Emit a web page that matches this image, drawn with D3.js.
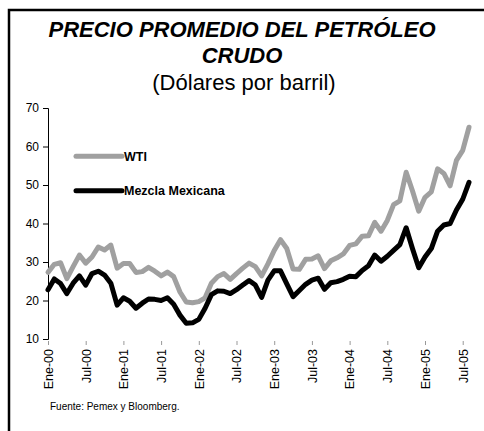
<!DOCTYPE html>
<html><head><meta charset="utf-8">
<script src="https://cdn.jsdelivr.net/npm/d3@7"></script>
<style>
body{margin:0;background:#fff}
svg{display:block}
text{font-family:"Liberation Sans",Arial,Helvetica,sans-serif}
</style>
</head><body>
<svg id="chart" width="484" height="431"></svg>
<script>
const categories = [
 "Ene-00","Feb-00","Mar-00","Abr-00","May-00","Jun-00","Jul-00","Ago-00","Sep-00","Oct-00","Nov-00","Dic-00",
 "Ene-01","Feb-01","Mar-01","Abr-01","May-01","Jun-01","Jul-01","Ago-01","Sep-01","Oct-01","Nov-01","Dic-01",
 "Ene-02","Feb-02","Mar-02","Abr-02","May-02","Jun-02","Jul-02","Ago-02","Sep-02","Oct-02","Nov-02","Dic-02",
 "Ene-03","Feb-03","Mar-03","Abr-03","May-03","Jun-03","Jul-03","Ago-03","Sep-03","Oct-03","Nov-03","Dic-03",
 "Ene-04","Feb-04","Mar-04","Abr-04","May-04","Jun-04","Jul-04","Ago-04","Sep-04","Oct-04","Nov-04","Dic-04",
 "Ene-05","Feb-05","Mar-05","Abr-05","May-05","Jun-05","Jul-05","Ago-05"
];
const wti = [
 27.3,29.4,29.8,25.7,28.8,31.8,29.7,31.3,33.9,33.1,34.4,28.4,
 29.6,29.6,27.3,27.5,28.6,27.6,26.4,27.4,26.2,22.2,19.6,19.4,
 19.7,20.7,24.5,26.2,27.0,25.5,27.0,28.4,29.7,28.8,26.4,29.5,
 33.0,35.8,33.5,28.2,28.1,30.7,30.8,31.6,28.3,30.3,31.1,32.1,
 34.3,34.7,36.7,36.8,40.3,38.0,40.8,44.9,45.9,53.3,48.5,43.2,
 46.8,48.2,54.2,53.0,49.8,56.4,59.0,65.0
];
const mezcla = [
 22.8,25.6,24.4,21.8,24.5,26.4,24.0,27.0,27.6,26.6,24.5,18.8,
 20.7,19.8,18.0,19.3,20.4,20.3,20.0,20.7,19.0,16.2,14.1,14.2,
 15.1,18.0,21.5,22.5,22.4,21.8,22.8,24.0,25.2,24.0,20.8,25.3,
 27.7,27.7,24.3,21.0,22.6,24.2,25.3,25.8,22.9,24.6,24.9,25.5,
 26.3,26.2,27.8,29.0,31.8,30.2,31.5,33.0,34.5,38.9,33.5,28.5,
 31.3,33.5,38.0,39.6,40.0,43.5,46.3,50.7
];
const tickLabels = ["Ene-00","Jul-00","Ene-01","Jul-01","Ene-02","Jul-02","Ene-03","Jul-03","Ene-04","Jul-04","Ene-05","Jul-05"];
const yTicks = [10,20,30,40,50,60,70];
const seriesNames = ["WTI","Mezcla Mexicana"];
const seriesColors = ["#a0a0a0","#000000"];

const svg = d3.select("#chart");

// frame
svg.append("rect").attr("x",9).attr("y",10).attr("width",520).attr("height",520)
  .attr("fill","none").attr("stroke","#000").attr("stroke-width",2.5);

// titles
svg.append("text").attr("x",242).attr("y",37).attr("text-anchor","middle")
  .attr("font-size",22).attr("font-weight","bold").attr("font-style","italic")
  .text("PRECIO PROMEDIO DEL PETRÓLEO");
svg.append("text").attr("x",242).attr("y",63).attr("text-anchor","middle")
  .attr("font-size",22).attr("font-weight","bold").attr("font-style","italic")
  .text("CRUDO");
svg.append("text").attr("x",244).attr("y",90).attr("text-anchor","middle")
  .attr("font-size",22).text("(Dólares por barril)");

const x = d3.scaleLinear().domain([0, categories.length-1]).range([48, 469]);
const y = d3.scaleLinear().domain([10,70]).range([339,108]);

// y axis
const yAxis = svg.append("g").attr("transform","translate(48,0)")
  .call(d3.axisLeft(y).tickValues(yTicks).tickSize(5).tickPadding(4).tickFormat(d3.format("d")));
yAxis.select(".domain").attr("stroke","#000").attr("stroke-width",1);
yAxis.selectAll(".tick line").attr("stroke","#000");
yAxis.selectAll("text").attr("font-size",12).attr("fill","#000").attr("font-family","'Liberation Sans',Arial,sans-serif");

// x axis
const tickIdx = tickLabels.map(l => categories.indexOf(l));
const xAxis = svg.append("g").attr("transform","translate(0,341)")
  .call(d3.axisBottom(x).tickValues(tickIdx).tickSize(4).tickFormat(i => categories[i]));
xAxis.select(".domain").remove();
xAxis.selectAll(".tick line").attr("stroke","#999");
xAxis.selectAll("text").attr("font-size",12.5).attr("fill","#000")
  .attr("font-family","'Liberation Sans',Arial,sans-serif")
  .attr("text-anchor","end").attr("transform","rotate(-90)")
  .attr("x",-8).attr("y",0).attr("dy","0.35em");

// lines
const line = d3.line().x((d,i)=>x(i)).y(d=>y(d)).curve(d3.curveLinear);
[wti, mezcla].forEach((s,k)=>{
  svg.append("path").datum(s).attr("d",line).attr("fill","none")
    .attr("stroke",seriesColors[k]).attr("stroke-width",5)
    .attr("stroke-linejoin","round").attr("stroke-linecap","round");
});

// legend
const legY = [y(57.5), y(48.5)];
seriesNames.forEach((n,k)=>{
  svg.append("line").attr("x1",76).attr("x2",122).attr("y1",legY[k]).attr("y2",legY[k])
    .attr("stroke",seriesColors[k]).attr("stroke-width",5).attr("stroke-linecap","round");
  svg.append("text").attr("x",124).attr("y",legY[k]).attr("dy","0.35em")
    .attr("font-size",12.5).attr("font-weight","bold").text(n);
});

// source
svg.append("text").attr("x",50).attr("y",410).attr("font-size",10).text("Fuente: Pemex y Bloomberg.");
</script>
</body></html>
